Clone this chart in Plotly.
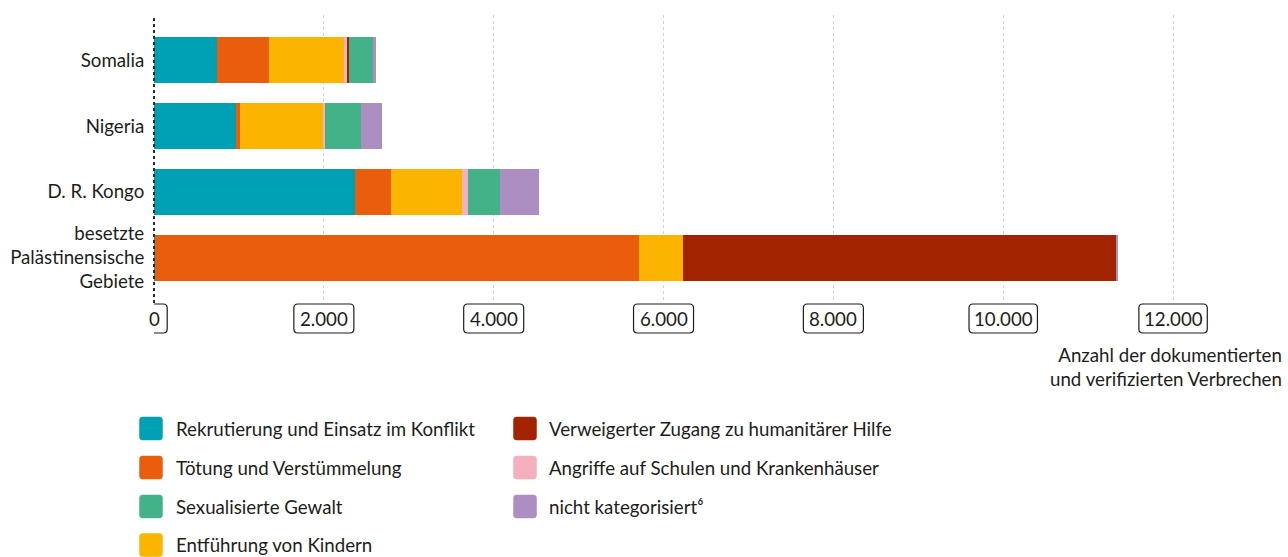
import plotly.graph_objects as go

# ---- data ----
countries = ["Somalia", "Nigeria", "D. R. Kongo", "besetzte<br>Palästinensische<br>Gebiete"]
rekrutierung = [747, 962, 2364, 12]
toetung = [604, 48, 424, 5695]
entfuehrung = [884, 985, 837, 521]
angriffe = [40, 24, 70, 0]
verweigert = [20, 0, 0, 5101]
sexualisiert = [282, 416, 377, 0]
nicht_kat = [39, 255, 460, 23]

series = [
    ("Rekrutierung und Einsatz im Konflikt", rekrutierung, "#00A0B4"),
    ("Tötung und Verstümmelung", toetung, "#E95E0C"),
    ("Entführung von Kindern", entfuehrung, "#FBB500"),
    ("Angriffe auf Schulen und Krankenhäuser", angriffe, "#F4B0BE"),
    ("Verweigerter Zugang zu humanitärer Hilfe", verweigert, "#A12300"),
    ("Sexualisierte Gewalt", sexualisiert, "#44B288"),
    ("nicht kategorisiert⁶", nicht_kat, "#AD8EC3"),
]

tick_vals = [0, 2000, 4000, 6000, 8000, 10000, 12000]
tick_text = ["0", "2.000", "4.000", "6.000", "8.000", "10.000", "12.000"]

# legend layout (two columns)
legend_col1 = ["Rekrutierung und Einsatz im Konflikt", "Tötung und Verstümmelung",
               "Sexualisierte Gewalt", "Entführung von Kindern"]
legend_col2 = ["Verweigerter Zugang zu humanitärer Hilfe", "Angriffe auf Schulen und Krankenhäuser",
               "nicht kategorisiert⁶"]

W, H = 1288, 557
L, T, B_PX = 154, 15, 303
X_MAX = 13000
PLOT_W = 1104
R = W - L - PLOT_W
PLOT_H = B_PX - T

FONT = "Lato, 'Open Sans', sans-serif"
FS = 18.7
TXT = "#1d1d1b"

def xp(px):
    return (px - L) / PLOT_W

def yp(py):
    return (B_PX - py) / PLOT_H

def rrect(w, h, r):
    x0, x1, y0, y1 = -w / 2, w / 2, -h / 2, h / 2
    return (f"M {x0+r},{y0} L {x1-r},{y0} Q {x1},{y0} {x1},{y0+r} "
            f"L {x1},{y1-r} Q {x1},{y1} {x1-r},{y1} L {x0+r},{y1} "
            f"Q {x0},{y1} {x0},{y1-r} L {x0},{y0+r} Q {x0},{y0} {x0+r},{y0} Z")

fig = go.Figure()
for name, vals, col in series:
    fig.add_trace(go.Bar(
        y=countries, x=vals, name=name, orientation="h",
        marker=dict(color=col, line=dict(width=0)),
        width=0.7, showlegend=False,
    ))

shapes = []
annotations = []

# zero line (dashed, dark) – paper-referenced so it is not clipped at the plot edge
shapes.append(dict(type="line", xref="paper", yref="paper", x0=0, x1=0, y0=0, y1=1,
                   line=dict(color="#2a2a2a", width=2, dash="3px,3px"), layer="above"))

# tick label boxes
label_y = yp(318.5)
for v, t in zip(tick_vals, tick_text):
    w = 8.4 * len(t) + 18
    shapes.append(dict(type="path", xref="x", yref="paper",
                       xsizemode="pixel", ysizemode="pixel", xanchor=v, yanchor=label_y,
                       path=rrect(w, 29, 4),
                       line=dict(color="#1d1d1b", width=1.2), fillcolor="white"))
    annotations.append(dict(x=v, y=label_y, xref="x", yref="paper", text=t,
                            showarrow=False, xanchor="center", yanchor="middle",
                            font=dict(family=FONT, size=FS, color=TXT)))

# axis title
annotations.append(dict(x=xp(1284), y=yp(367), xref="paper", yref="paper",
                        text="Anzahl der dokumentierten<br>und verifizierten Verbrechen",
                        showarrow=False, xanchor="right", yanchor="middle", align="right",
                        font=dict(family=FONT, size=FS, color=TXT)))

# manual legend
color_of = {n: c for n, _, c in series}
row_y = [428.5, 467.5, 506.5, 545]
for col_items, sw_x, tx_x in ((legend_col1, 151, 174), (legend_col2, 525, 547)):
    for i, name in enumerate(col_items):
        shapes.append(dict(type="path", xref="paper", yref="paper",
                           xsizemode="pixel", ysizemode="pixel",
                           xanchor=xp(sw_x), yanchor=yp(row_y[i]),
                           path=rrect(23, 23, 3),
                           line=dict(color=color_of[name], width=0.5),
                           fillcolor=color_of[name]))
        annotations.append(dict(x=xp(tx_x), y=yp(row_y[i]), xref="paper", yref="paper",
                                text=name, showarrow=False, xanchor="left", yanchor="middle",
                                font=dict(family=FONT, size=FS, color=TXT)))

fig.update_layout(
    barmode="stack",
    width=W, height=H,
    margin=dict(l=L, r=R, t=T, b=H - B_PX, pad=0, autoexpand=False),
    plot_bgcolor="white", paper_bgcolor="white",
    font=dict(family=FONT, size=FS, color=TXT),
    shapes=shapes, annotations=annotations,
    showlegend=False,
)
fig.update_xaxes(range=[0, X_MAX], tickvals=tick_vals, showticklabels=False,
                 showgrid=True, gridcolor="#d2d2d2", griddash="3px,3px", gridwidth=1,
                 zeroline=False, showline=False, ticks="", fixedrange=True, automargin=False)
fig.update_yaxes(autorange=False, range=[3.69, -0.69], showgrid=False, zeroline=False,
                 showline=False, ticks="outside", ticklen=5, tickcolor="rgba(0,0,0,0)",
                 tickfont=dict(family=FONT, size=FS, color=TXT), fixedrange=True,
                 automargin=False)

fig.write_html("out.html", config={"displayModeBar": False},
               post_script="document.body.style.margin='0';document.body.style.overflow='hidden';")
